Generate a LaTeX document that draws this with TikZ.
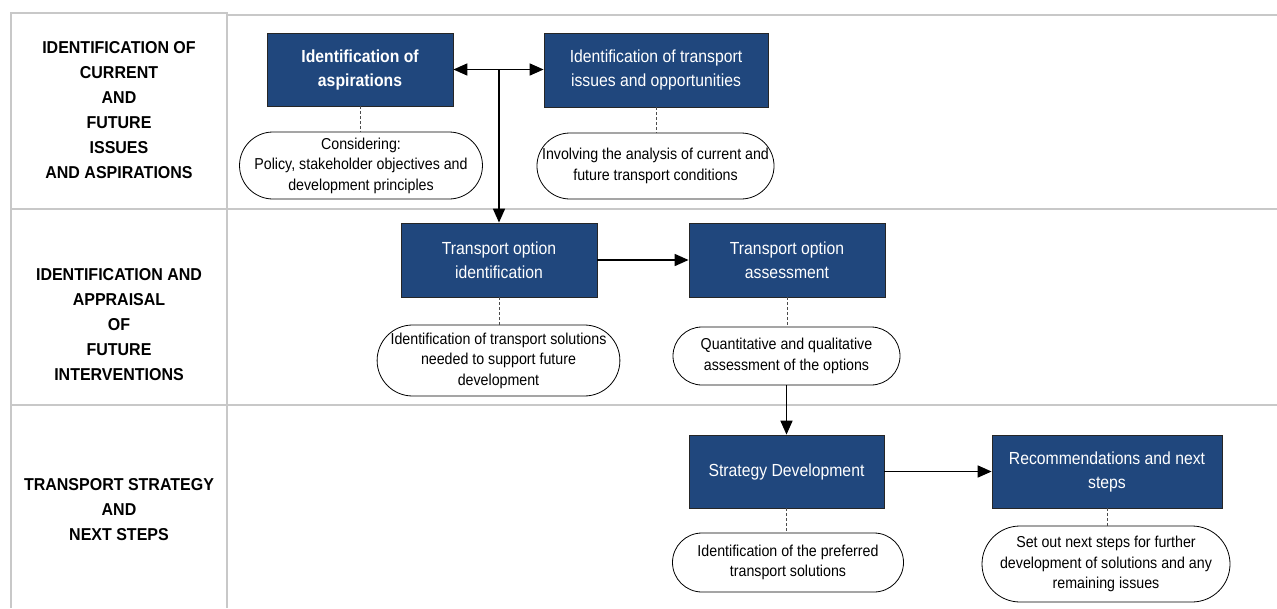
\documentclass[tikz,border=0pt]{standalone}
\usepackage{fontspec}
\setmainfont[FakeStretch=0.9]{Liberation Sans}
\newfontfamily\lanefont[FakeStretch=0.93]{Liberation Sans}
\usetikzlibrary{arrows.meta,shapes.misc}
\definecolor{boxblue}{RGB}{32,71,125}
\definecolor{gridgray}{RGB}{200,200,200}
\begin{document}
\begin{tikzpicture}[x=1pt,y=-1pt,
  stagebox/.style={draw=black!85, line width=0.8pt, fill=boxblue, text=white, inner sep=0pt, align=center,
     font=\fontsize{17.5}{24}\selectfont},
  notebox/.style={draw=black, line width=0.8pt, fill=white, rounded rectangle, inner sep=0pt, align=center,
     font=\fontsize{15.8}{20.5}\selectfont},
  lanelabel/.style={inner sep=0pt, align=center, font=\lanefont\bfseries\fontsize{17.2}{25}\selectfont},
  gridline/.style={draw=gridgray, line width=1.3pt},
  tip/.tip={Triangle[length=14pt,width=12pt]},
  flow/.style={draw=black, line width=1.7pt, -tip},
  tether/.style={draw=black!70, line width=0.7pt, dash pattern=on 3pt off 2pt}]
\useasboundingbox (0,0) rectangle (1277,608);
% grid
\draw[gridline] (11,608) -- (11,13) -- (227,13) -- (227,608);
\draw[gridline] (227,15) -- (1277,15);
\draw[gridline] (11,209) -- (1277,209);
\draw[gridline] (11,405) -- (1277,405);
% lane labels
\node[lanelabel] (l1) at (119,110) {IDENTIFICATION OF\\CURRENT\\AND\\FUTURE\\ISSUES\\AND ASPIRATIONS};
\node[lanelabel] (l2) at (119,325) {IDENTIFICATION AND\\APPRAISAL\\OF\\FUTURE\\INTERVENTIONS};
\node[lanelabel] (l3) at (119,510) {TRANSPORT STRATEGY\\AND\\NEXT STEPS};
% stage boxes
\node[stagebox, minimum width=186pt, minimum height=73pt, font=\bfseries\fontsize{17.5}{24}\selectfont] (b1) at (360,69.5) {Identification of\\aspirations};
\node[stagebox, minimum width=224pt, minimum height=74pt] (b2) at (656,70) {Identification of transport\\issues and opportunities};
\node[stagebox, minimum width=196pt, minimum height=74pt] (b5) at (499,260) {Transport option\\identification};
\node[stagebox, minimum width=196pt, minimum height=74pt] (b7) at (787,260) {Transport option\\assessment};
\node[stagebox, minimum width=195pt, minimum height=73pt] (b9) at (786.5,471.5) {Strategy Development};
\node[stagebox, minimum width=230pt, minimum height=73pt] (b10) at (1107,471.5) {Recommendations and next\\steps};
% notes
\node[notebox, minimum width=216pt, minimum height=67pt] (s1) at (361,165.5) {Considering:\\Policy, stakeholder objectives and\\development principles};
\node[notebox, minimum width=231pt, minimum height=66pt] (s2) at (655.5,166) {Involving the analysis of current and\\future transport conditions};
\node[notebox, minimum width=237pt, minimum height=71pt] (s3) at (498.5,360.5) {Identification of transport solutions\\needed to support future\\development};
\node[notebox, minimum width=227pt, minimum height=58pt] (s4) at (786.5,356) {Quantitative and qualitative\\assessment of the options};
\node[notebox, minimum width=231pt, minimum height=59pt] (s5) at (788,562.5) {Identification of the preferred\\transport solutions};
\node[notebox, minimum width=248pt, minimum height=76pt] (s6) at (1106,564) {Set out next steps for further\\development of solutions and any\\remaining issues};
% tethers
\draw[tether] (b1.south) -- (b1.south |- s1.north);
\draw[tether] (b2.south) -- (b2.south |- s2.north);
\draw[tether] (b5.south) -- (b5.south |- s3.north);
\draw[tether] (b7.south) -- (b7.south |- s4.north);
\draw[tether] (b9.south) -- (b9.south |- s5.north);
\draw[tether] (b10.south) -- (b10.south |- s6.north);
% flows
\coordinate (j) at (b5.north |- b1.east);
\draw[flow, tip-tip] (b1.east) -- (b1.east -| b2.west);
\draw[flow] (j) -- (b5.north);
\draw[flow] (b5.east) -- (b7.west);
\draw[flow] (s4.south) -- (b9.north);
\draw[flow] (b9.east) -- (b10.west);
\end{tikzpicture}
\end{document}
